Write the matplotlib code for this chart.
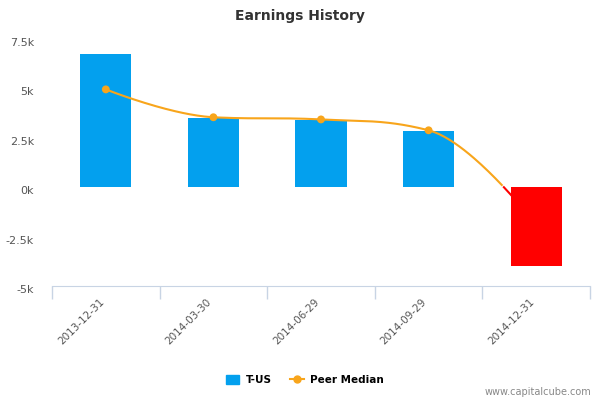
import numpy as np
import matplotlib
matplotlib.use("Agg")
import matplotlib.pyplot as plt
import matplotlib.transforms as mtrans
from matplotlib.lines import Line2D
from matplotlib.patches import Patch

# data
dates = ["2013-12-31", "2014-03-30", "2014-06-29", "2014-09-29", "2014-12-31"]
earnings = [6720, 3480, 3380, 2830, -3990]
peer_median = [4950, 3540, 3430, 2880, -1900]

BLUE = "#03A0EE"
ORANGE = "#F8A51B"
RED = "#FF0000"


def spline_path(xs, ys, n=60):
    # highcharts-like spline (smoothing 1.5)
    xs = np.asarray(xs, float)
    ys = np.asarray(ys, float)
    m = len(xs)
    lc = [(xs[i], ys[i]) for i in range(m)]
    rc = [(xs[i], ys[i]) for i in range(m)]
    for i in range(1, m - 1):
        lx = (1.5 * xs[i] + xs[i - 1]) / 2.5
        ly = (1.5 * ys[i] + ys[i - 1]) / 2.5
        rx = (1.5 * xs[i] + xs[i + 1]) / 2.5
        ry = (1.5 * ys[i] + ys[i + 1]) / 2.5
        corr = (ry - ly) * (rx - xs[i]) / (rx - lx) + ys[i] - ry
        ly += corr
        ry += corr
        if ly > max(ys[i - 1], ys[i]):
            ly = max(ys[i - 1], ys[i]); ry = 2 * ys[i] - ly
        elif ly < min(ys[i - 1], ys[i]):
            ly = min(ys[i - 1], ys[i]); ry = 2 * ys[i] - ly
        if ry > max(ys[i + 1], ys[i]):
            ry = max(ys[i + 1], ys[i]); ly = 2 * ys[i] - ry
        elif ry < min(ys[i + 1], ys[i]):
            ry = min(ys[i + 1], ys[i]); ly = 2 * ys[i] - ry
        lc[i] = (lx, ly)
        rc[i] = (rx, ry)
    px, py = [], []
    t = np.linspace(0, 1, n)
    for i in range(m - 1):
        p0 = np.array([xs[i], ys[i]])
        p1 = np.array(rc[i])
        p2 = np.array(lc[i + 1])
        p3 = np.array([xs[i + 1], ys[i + 1]])
        seg = ((1 - t) ** 3)[:, None] * p0 + (3 * (1 - t) ** 2 * t)[:, None] * p1 \
            + (3 * (1 - t) * t ** 2)[:, None] * p2 + (t ** 3)[:, None] * p3
        px.extend(seg[:, 0]); py.extend(seg[:, 1])
    return np.array(px), np.array(py)


fig = plt.figure(figsize=(6, 4), dpi=100)
ax = fig.add_axes([0.0867, 0.285, 0.8966, 0.6175])

x = np.arange(len(dates))
colors = [BLUE if v >= 0 else RED for v in earnings]
ax.bar(x, earnings, width=0.475, color=colors, zorder=2)

# line is orange above zero, red below (hidden on the red bar)
sx, sy = spline_path(x, peer_median)
ax.plot(sx, np.where(sy >= 0, sy, np.nan), color=ORANGE, lw=1.5, zorder=3)
ax.plot(sx, np.where(sy <= 0, sy, np.nan), color=RED, lw=1.5, zorder=3)
mcol = [ORANGE if v >= 0 else RED for v in peer_median]
ax.scatter(x, peer_median, c=mcol, s=32, zorder=4, linewidths=0)

ax.set_xlim(-0.5, len(dates) - 0.5)
ax.set_ylim(-5000, 7500)
yt = [-5000, -2500, 0, 2500, 5000, 7500]
ax.set_yticks(yt)
ax.set_yticklabels(["-5k", "-2.5k", "0k", "2.5k", "5k", "7.5k"], color="#555555", fontsize=8)
ax.tick_params(axis='y', length=0, pad=13)
yoff = mtrans.ScaledTranslation(0, -3 / 100, fig.dpi_scale_trans)
for lab in ax.get_yticklabels():
    lab.set_transform(lab.get_transform() + yoff)

ax.set_xticks(x)
ax.set_xticklabels(dates, rotation=45, ha='right', rotation_mode='anchor',
                   color="#555555", fontsize=7.5)
ax.tick_params(axis='x', length=0, pad=8)
off = mtrans.ScaledTranslation(-7 / 100, 0, fig.dpi_scale_trans)
for lab in ax.get_xticklabels():
    lab.set_transform(lab.get_transform() + off)
ax.set_xticks(np.arange(-0.5, len(dates), 1.0), minor=True)
ax.tick_params(axis='x', which='minor', length=9, color="#C8D4E4", width=1)

for s in ['top', 'right', 'left']:
    ax.spines[s].set_visible(False)
ax.spines['bottom'].set_color("#C8D4E4")

fig.text(0.5, 0.96, "Earnings History", ha='center', va='center', fontsize=10,
         color="#333333", fontweight='bold')

handles = [Patch(color=BLUE),
           Line2D([], [], color=ORANGE, marker='o', ms=5, lw=1.5)]
fig.legend(handles, ["T-US", "Peer Median"], loc='center', bbox_to_anchor=(0.508, 0.05),
           ncol=2, frameon=False, prop={'weight': 'bold', 'size': 7.5},
           handlelength=1.3, handleheight=0.9, columnspacing=1.8, handletextpad=0.6)
fig.text(0.985, 0.02, "www.capitalcube.com", ha='right', va='center', fontsize=7,
         color="#888888")

fig.savefig("out.png", dpi=100)
